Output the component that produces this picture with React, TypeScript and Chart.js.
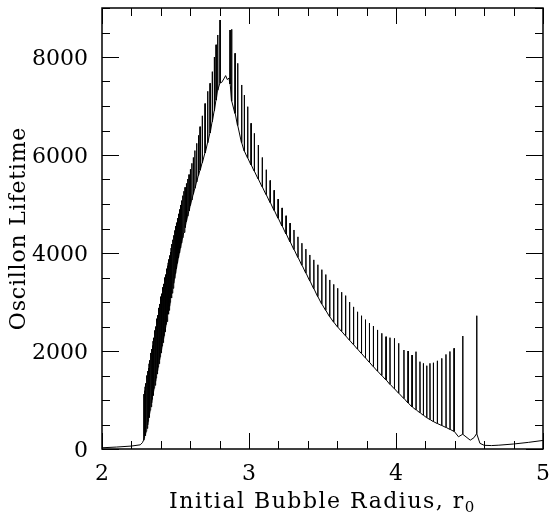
import React, { useEffect, useRef } from "react";
import { Chart, registerables } from "chart.js";

Chart.register(...registerables);

// ---- axis ticks ----
const xTickValues = [2, 2.2, 2.4, 2.6, 2.8, 3, 3.2, 3.4, 3.6, 3.8, 4, 4.2, 4.4, 4.6, 4.8, 5];
const xTickLabels = ["2", "3", "4", "5"];
const yTickValues = [0, 500, 1000, 1500, 2000, 2500, 3000, 3500, 4000, 4500, 5000, 5500, 6000, 6500, 7000, 7500, 8000, 8500, 9000];
const yTickLabels = ["0", "2000", "4000", "6000", "8000"];

// ---- smooth (non-resonant) stretches of the curve ----
const baseX = [2.0, 2.1, 2.2, 2.26, 2.275, 2.814, 2.832, 2.841, 2.852, 2.864, 4.425, 4.505, 4.53, 4.571, 4.6, 4.65, 4.7, 4.8, 4.9, 5.0];
const baseY = [25, 40, 60, 85, 130, 7480, 7570, 7620, 7540, 7570, 250, 180, 230, 116, 75, 70, 78, 102, 135, 175];

// ---- resonance spikes, rising branch ----
const riseX = [
  2.284, 2.288, 2.293, 2.297, 2.302, 2.306, 2.311, 2.315, 2.32, 2.324,
  2.329, 2.333, 2.338, 2.342, 2.347, 2.351, 2.356, 2.36, 2.365, 2.369,
  2.374, 2.378, 2.383, 2.387, 2.392, 2.396, 2.401, 2.405, 2.41, 2.414,
  2.419, 2.423, 2.428, 2.432, 2.437, 2.441, 2.446, 2.45, 2.455, 2.46,
  2.465, 2.47, 2.476, 2.482, 2.488, 2.494, 2.5, 2.506, 2.513, 2.52,
  2.527, 2.534, 2.541, 2.549, 2.557, 2.565, 2.574, 2.583, 2.592, 2.601,
  2.611, 2.621, 2.632, 2.644, 2.656, 2.667, 2.682, 2.701, 2.719, 2.735,
  2.75, 2.764, 2.776, 2.787, 2.803,
];
const risePeak = [
  1120, 1190, 1270, 1340, 1430, 1500, 1590, 1650, 1740, 1810,
  1890, 1960, 2040, 2110, 2200, 2270, 2350, 2420, 2500, 2570,
  2660, 2730, 2810, 2880, 2960, 3030, 3110, 3170, 3240, 3300,
  3370, 3430, 3500, 3560, 3620, 3680, 3740, 3800, 3870, 3950,
  4020, 4100, 4180, 4270, 4360, 4460, 4550, 4620, 4710, 4800,
  4890, 4980, 5070, 5170, 5260, 5340, 5420, 5510, 5600, 5710,
  5830, 5950, 6090, 6238, 6400, 6578, 6800, 7050, 7300, 7463,
  7701, 8000, 8250, 8449, 8755,
];
const riseFloor = [
  180, 220, 270, 310, 360, 420, 490, 560, 640, 710,
  790, 860, 940, 1010, 1090, 1160, 1240, 1300, 1380, 1450,
  1530, 1590, 1670, 1740, 1820, 1880, 1960, 2020, 2100, 2170,
  2250, 2310, 2390, 2460, 2540, 2600, 2680, 2750, 2830, 2910,
  2990, 3080, 3180, 3280, 3380, 3480, 3580, 3680, 3790, 3900,
  4000, 4100, 4200, 4310, 4420, 4520, 4640, 4750, 4860, 4970,
  5080, 5200, 5320, 5450, 5580, 5690, 5840, 6040, 6250, 6450,
  6680, 6900, 7120, 7320, 7470,
];

// ---- resonance spikes, falling branch ----
const fallX = [2.871, 2.882, 2.905, 2.923, 2.95, 2.968, 2.991, 3.014, 3.036, 3.063, 3.09, 3.117, 3.144, 3.171, 3.198, 3.225, 3.252, 3.279, 3.306, 3.333, 3.36, 3.387, 3.414, 3.441, 3.468, 3.495, 3.522, 3.549, 3.576, 3.603, 3.63, 3.657, 3.684, 3.711, 3.738, 3.765, 3.792, 3.819, 3.846, 3.874, 3.903, 3.932, 3.959, 3.989, 4.018, 4.054, 4.082, 4.109, 4.136, 4.163, 4.186, 4.209, 4.231, 4.254, 4.281, 4.311, 4.34, 4.367, 4.395, 4.454, 4.549];
const fallPeak = [8551, 8565, 8075, 7871, 7429, 7224, 6986, 6647, 6443, 6204, 5950, 5700, 5480, 5280, 5100, 4920, 4760, 4610, 4470, 4330, 4200, 4080, 3960, 3860, 3760, 3660, 3560, 3450, 3360, 3280, 3200, 3130, 3000, 2900, 2800, 2720, 2640, 2570, 2510, 2430, 2361, 2292, 2272, 2259, 2157, 2020, 2000, 1918, 1986, 1782, 1748, 1700, 1748, 1760, 1800, 1850, 1930, 1990, 2055, 2306, 2720];
const fallFloor = [7450, 7100, 6850, 6600, 6250, 6080, 5940, 5800, 5670, 5510, 5350, 5190, 5030, 4870, 4710, 4550, 4390, 4230, 4070, 3910, 3750, 3590, 3430, 3270, 3110, 2960, 2830, 2700, 2590, 2490, 2400, 2310, 2220, 2130, 2040, 1950, 1860, 1770, 1680, 1590, 1500, 1410, 1320, 1230, 1140, 1030, 940, 860, 800, 740, 690, 640, 600, 560, 520, 480, 440, 400, 360, 300, 310];

const SPIKE_HALF_WIDTH = 0.0012;

function buildPoints() {
  const pts: { x: number; y: number }[] = [];
  baseX.forEach((x, i) => pts.push({ x, y: baseY[i] }));
  const addSpikes = (xs: number[], peaks: number[], floors: number[]) => {
    xs.forEach((x, i) => {
      pts.push({ x: x - SPIKE_HALF_WIDTH, y: floors[i] });
      pts.push({ x, y: peaks[i] });
      pts.push({ x: x + SPIKE_HALF_WIDTH, y: floors[i] });
    });
  };
  addSpikes(riseX, risePeak, riseFloor);
  addSpikes(fallX, fallPeak, fallFloor);
  pts.sort((a, b) => a.x - b.x);
  return pts;
}

const FONT = '"DejaVu Serif", serif';

const framePlugin = {
  id: "frameTicks",
  afterDraw(chart: any) {
    const { ctx, chartArea: a, scales } = chart;
    const xs = scales.x;
    const ys = scales.y;
    ctx.save();
    ctx.strokeStyle = "#000";
    ctx.fillStyle = "#000";
    ctx.lineWidth = 1;
    const seg = (x1: number, y1: number, x2: number, y2: number) => {
      ctx.beginPath();
      ctx.moveTo(x1, y1);
      ctx.lineTo(x2, y2);
      ctx.stroke();
    };
    xTickValues.forEach((v) => {
      const px = Math.round(xs.getPixelForValue(v)) + 0.5;
      const major = Math.abs(v - Math.round(v)) < 1e-9;
      const len = major ? 16 : 8;
      seg(px, a.bottom, px, a.bottom - len);
      seg(px, a.top, px, a.top + len);
    });
    yTickValues.forEach((v) => {
      const py = Math.round(ys.getPixelForValue(v)) + 0.5;
      const major = v % 2000 === 0;
      const len = major ? 17 : 8;
      seg(a.left, py, a.left + len, py);
      seg(a.right, py, a.right - len, py);
    });
    ctx.lineWidth = 1.5;
    ctx.strokeRect(a.left, a.top, a.right - a.left, a.bottom - a.top);

    // tick labels
    ctx.font = `22px ${FONT}`;
    ctx.textBaseline = "alphabetic";
    ctx.textAlign = "center";
    xTickLabels.forEach((t) => {
      const px = xs.getPixelForValue(Number(t));
      ctx.fillText(t, px, a.bottom + 31);
    });
    ctx.textAlign = "right";
    yTickLabels.forEach((t) => {
      const py = ys.getPixelForValue(Number(t));
      ctx.fillText(t, a.left - 14, py + 8);
    });

    // x title with subscript
    const main = "Initial Bubble Radius, r";
    const sub = "0";
    (ctx as any).letterSpacing = "1.5px";
    ctx.font = `22px ${FONT}`;
    const wMain = ctx.measureText(main).width;
    ctx.font = `15px ${FONT}`;
    const wSub = ctx.measureText(sub).width;
    const cx = (a.left + a.right) / 2;
    const startX = cx - (wMain + wSub) / 2;
    ctx.textAlign = "left";
    ctx.font = `22px ${FONT}`;
    ctx.fillText(main, startX, 508);
    ctx.font = `15px ${FONT}`;
    ctx.fillText(sub, startX + wMain, 512);

    // y title
    ctx.font = `22px ${FONT}`;
    (ctx as any).letterSpacing = "0.8px";
    ctx.translate(25, (a.top + a.bottom) / 2);
    ctx.rotate(-Math.PI / 2);
    ctx.textAlign = "center";
    ctx.fillText("Oscillon Lifetime", 0, 0);
    ctx.restore();
  },
};

export default function App() {
  const ref = useRef<HTMLCanvasElement | null>(null);
  useEffect(() => {
    if (!ref.current) return;
    const chart = new Chart(ref.current, {
      type: "line",
      data: {
        datasets: [
          {
            data: buildPoints(),
            borderColor: "#000",
            borderWidth: 1,
            pointRadius: 0,
            tension: 0,
            fill: false,
          },
        ],
      },
      options: {
        responsive: false,
        animation: false,
        devicePixelRatio: 1,
        layout: { padding: { left: 102, top: 8, right: 7, bottom: 68 } },
        plugins: { legend: { display: false }, tooltip: { enabled: false } },
        events: [],
        scales: {
          x: { type: "linear", min: 2, max: 5, display: false },
          y: { type: "linear", min: 0, max: 9000, display: false },
        },
      },
      plugins: [framePlugin],
    });
    return () => chart.destroy();
  }, []);
  return (
    <div style={{ position: "absolute", left: 0, top: 0, width: 550, height: 517, background: "#fff" }}>
      <canvas ref={ref} width={550} height={517} />
    </div>
  );
}
